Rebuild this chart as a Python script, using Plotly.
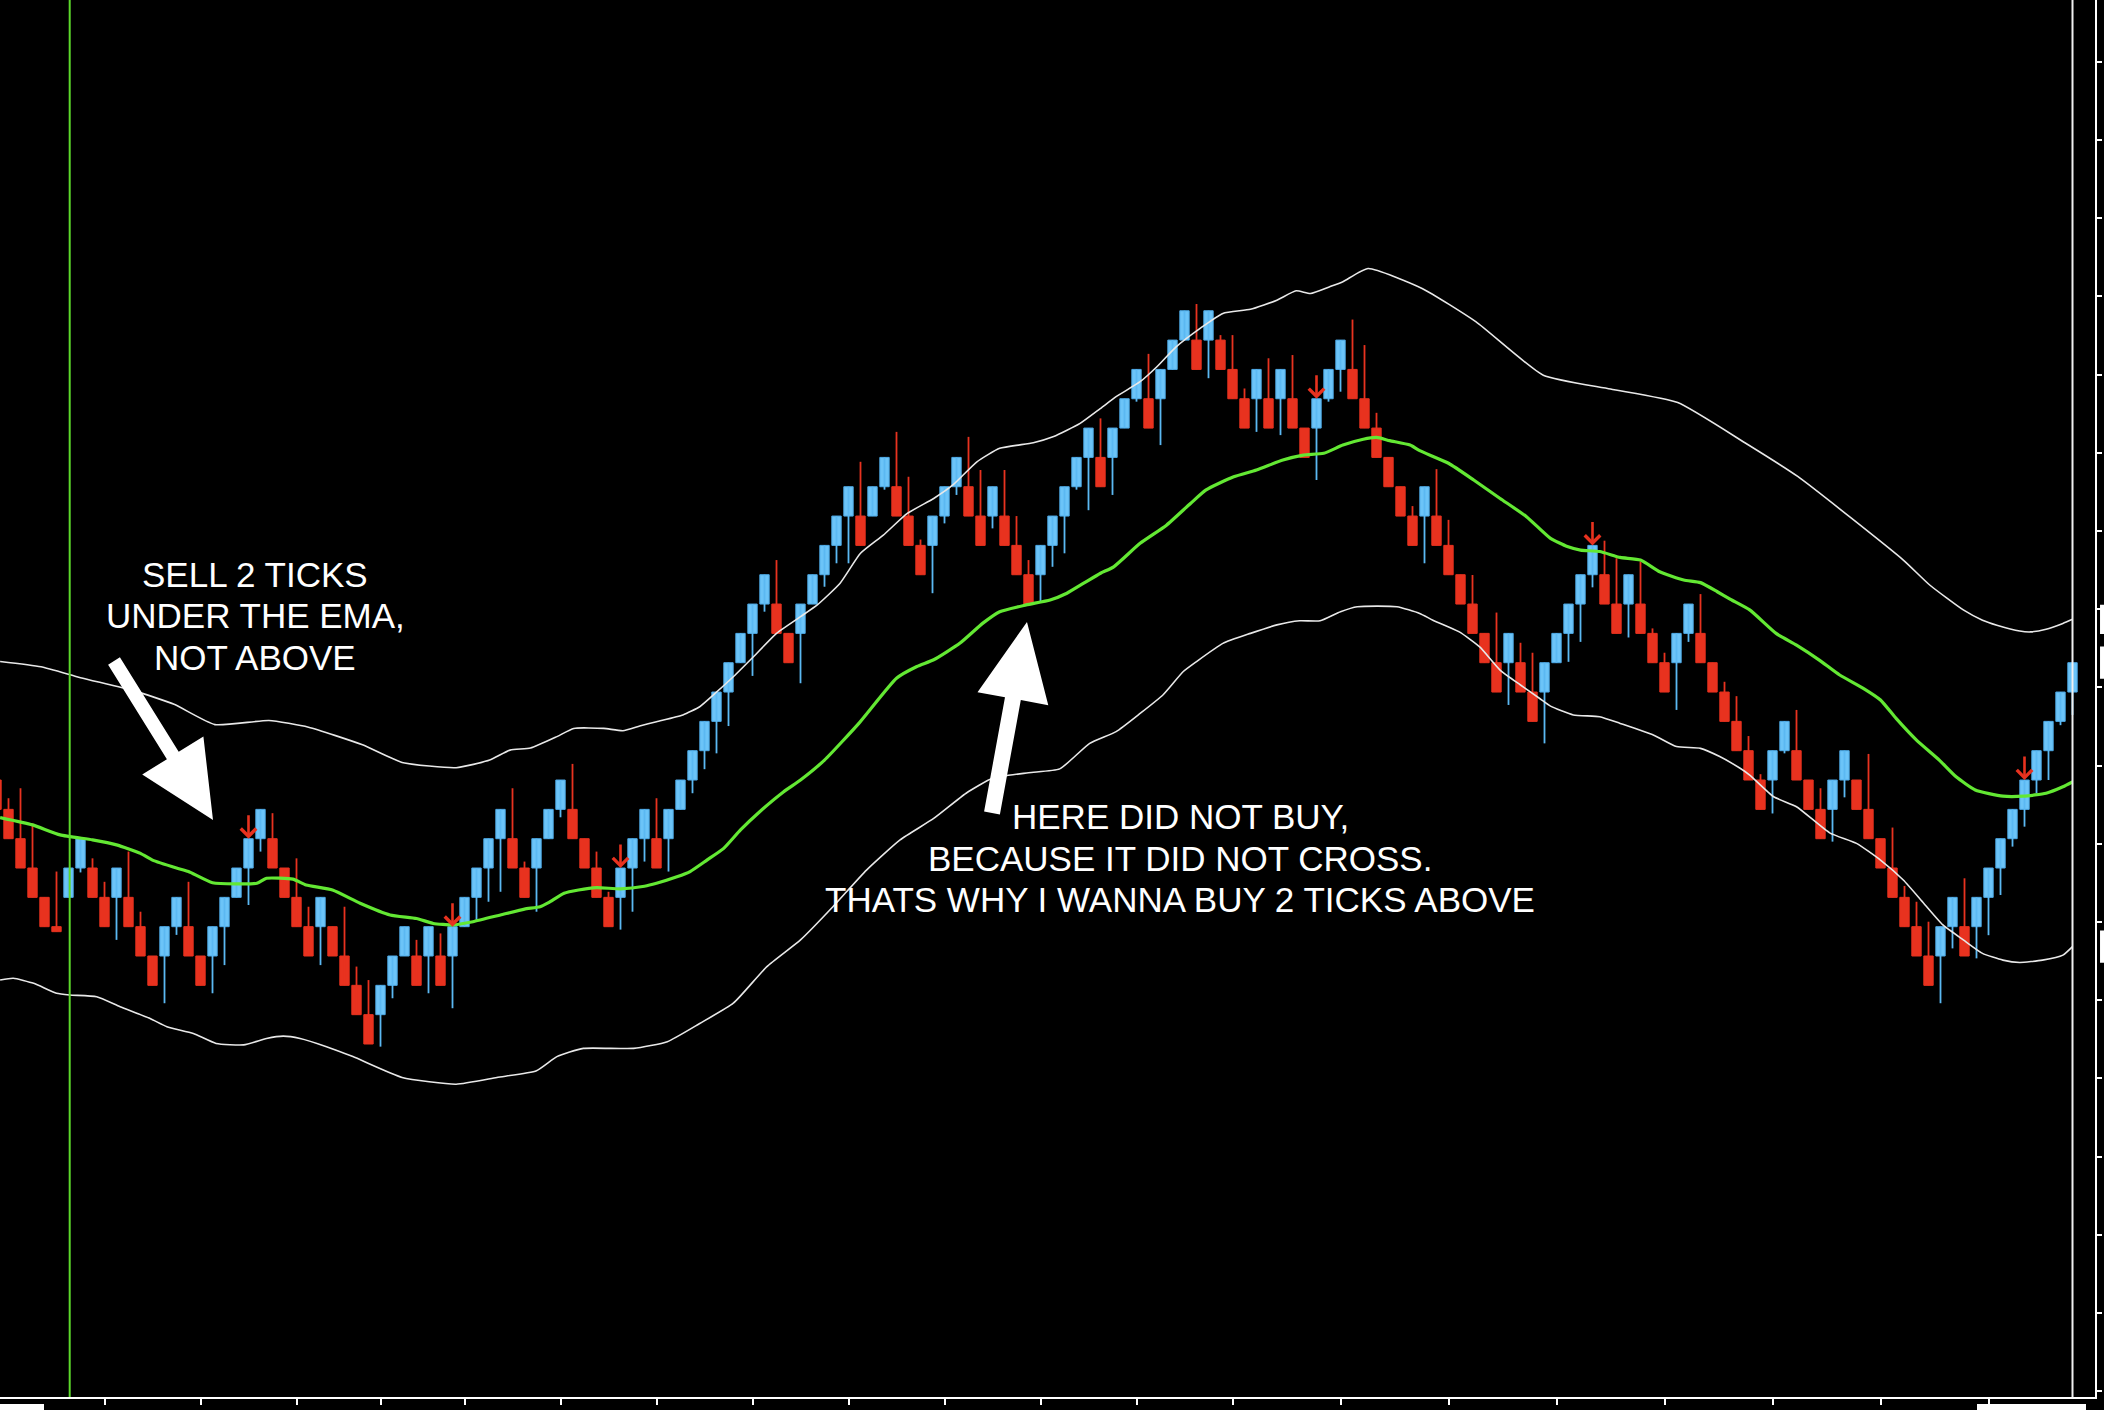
import plotly.graph_objects as go

# ---------------- data (price in brick units, x = bar index) ----------------
bar_index = list(range(-1, 173))
opens = [5, 4, 3, 2, 1, 0, 1, 2, 2, 1,            # -1..8
         1, 1, 0, -1, -1, 0, 0, -1, -1, 0,        # 9..18
         1, 2, 3, 3, 2, 1, 0, 0, 0, -1,           # 19..28
         -2, -3, -3, -2, -1, -1, -1, -1, -1, 0,   # 29..38
         1, 2, 3, 3, 2, 2, 3, 4, 4, 3,            # 39..48
         2, 1, 1, 2, 3, 3, 3, 4, 5, 6,            # 49..58
         7, 8, 9, 10, 11, 11, 10, 10, 11, 12,     # 59..68
         13, 14, 14, 14, 15, 15, 14, 13, 13, 14,  # 69..78
         15, 15, 14, 14, 14, 13, 12, 12, 13, 14,  # 79..88
         15, 16, 16, 16, 17, 18, 18, 18, 19, 20,  # 89..98
         20, 20, 20, 19, 18, 18, 18, 18, 18, 17,  # 99..108
         17, 18, 19, 19, 18, 17, 16, 15, 14, 14,  # 109..118
         14, 13, 12, 11, 10, 9, 9, 9, 8, 8,       # 119..128
         9, 10, 11, 12, 12, 11, 11, 11, 10, 9,    # 129..138
         9, 10, 10, 9, 8, 7, 6, 5, 5, 6,          # 139..148
         6, 5, 4, 4, 5, 5, 4, 3, 2, 1,            # 149..158
         0, -1, -1, 0, 0, 0, 1, 2, 3, 4,          # 159..168
         5, 6, 7, 8]                              # 169..172
closes = [4, 3, 2, 1, 0, -0.17, 2, 3, 1, 0,
          2, 0, -1, -2, 0, 1, -1, -2, 0, 1,
          2, 3, 4, 2, 1, 0, -1, 1, -1, -2,
          -3, -4, -2, -1, 0, -2, 0, -2, 0, 1,
          2, 3, 4, 2, 1, 3, 4, 5, 3, 2,
          1, 0, 2, 3, 4, 2, 4, 5, 6, 7,
          8, 9, 10, 11, 12, 10, 9, 11, 12, 13,
          14, 15, 13, 15, 16, 14, 13, 12, 14, 15,
          16, 14, 13, 15, 13, 12, 11, 13, 14, 15,
          16, 17, 15, 17, 18, 19, 17, 19, 20, 21,
          19, 21, 19, 18, 17, 19, 17, 19, 17, 16,
          18, 19, 20, 18, 17, 16, 15, 14, 13, 15,
          13, 12, 11, 10, 9, 8, 10, 8, 7, 9,
          10, 11, 12, 13, 11, 10, 12, 10, 9, 8,
          10, 11, 9, 8, 7, 6, 5, 4, 6, 7,
          5, 4, 3, 5, 6, 4, 3, 2, 1, 0,
          -1, -2, 0, 1, -1, 1, 2, 3, 4, 5,
          6, 7, 8, 9]
highs = [5, 4.38, 4.72, 3.52, 1, 1.88, 2, 3, 2.33, 1.53,
         2, 2.56, 0.51, -1, 0, 1, 1.53, -1, 0, 1,
         2, 3, 4, 3.87, 2, 2.33, 0.68, 1, 0, 0.68,
         -1.36, -1.82, -2, -1, 0, -0.45, 0, -0.23, 0, 1,
         2, 3, 4, 4.72, 2.22, 3, 4, 5, 5.55, 3,
         2.56, 1.19, 2, 3, 4, 4.38, 4, 5, 6, 7,
         8, 9, 10, 11, 12, 12.5, 10, 11, 12, 13,
         14, 15, 15.85, 15, 16, 16.87, 15.34, 13.2, 14, 15,
         16, 16.7, 15.57, 15, 15.57, 14, 12.5, 13, 14, 15,
         16, 17, 17.33, 17, 18, 19, 19.53, 19, 20, 21,
         21.23, 21, 20.17, 20.17, 18.35, 19, 19.38, 19, 19.49, 17,
         18, 19, 20, 20.7, 19.83, 17.52, 16, 15, 14.34, 15,
         15.6, 13.87, 12, 11.99, 10, 10.71, 10, 9.68, 9.34, 9,
         10, 11, 12, 13, 13.16, 12.56, 12, 12.45, 10.17, 9.34,
         10, 11, 11.34, 9, 8.35, 7.86, 6.5, 5.2, 6, 7,
         7.39, 5, 4.72, 5, 6, 5, 5.89, 3, 3.38, 1.39,
         0.85, 0.17, 0, 1, 1.65, 1, 2, 3, 4, 5,
         6, 7, 8, 9]
lows = [4, 3, 2, 1, 0, -0.17, 1, 1.85, 1, 0,
        -0.45, 0, -1, -2, -2.61, -0.28, -1, -2, -2.27, -1.31,
        1, 0.74, 2.56, 2, 1, 0, -1, -1.31, -1, -2,
        -3, -4, -4.09, -2.44, -1, -2, -2.27, -2, -2.78, 0,
        0.23, 0.85, 1.19, 2, 1, 0.51, 3, 3.73, 3, 2,
        1, 0, -0.1, 0.51, 2.22, 2, 1.88, 4, 4.55, 5.37,
        5.91, 6.84, 9, 8.55, 10.74, 10, 9, 8.3, 11, 11.59,
        12.39, 12.39, 13, 14, 14.9, 14, 13, 12, 11.37, 13.75,
        14.72, 14, 13, 13.58, 13, 12, 11, 11.08, 12.27, 12.73,
        14.9, 14.2, 15, 14.72, 17, 17.9, 17, 16.42, 19, 20,
        19, 18.7, 19, 18, 17, 16.87, 17, 16.76, 17, 16,
        15.23, 17.9, 18.24, 18, 17, 16, 15, 14, 13, 12.39,
        13, 12, 11, 10, 9, 8, 7.56, 8, 7, 6.25,
        9, 9.03, 9.71, 11.57, 11, 10, 9.86, 10, 9, 8,
        7.39, 9.71, 9, 8, 7, 6, 5, 4, 3.86, 5.91,
        5, 4, 3, 2.9, 4.41, 4, 3, 2, 1, 0,
        -1, -2, -2.61, -0.74, -1, -1.08, -0.29, 1.08, 2.73, 3.41,
        4.55, 5, 6.87, 7.22]
assert len(opens) == len(closes) == len(highs) == len(lows) == len(bar_index)

# EMA (green) sampled along the chart
ema_x = [-0.7, 2, 4.3, 7, 9, 11, 12, 14, 15, 17, 20.7, 21.5, 23.7, 24.8, 27, 29.3, 31.8, 34, 35.4, 37,
         38.7, 41, 43, 44.3, 45, 46.3, 47.5, 49, 51, 53, 54, 55.7, 56.8, 58.2, 59.6, 61, 62.6, 64.6, 66, 68,
         70.9, 74, 75.7, 77.1, 79.3, 81.2, 82.6, 84.8, 86.8, 88.2, 89.6, 91, 92.1, 94.3, 96.5, 98.5, 99.8, 102.1, 104, 106.2,
         107.9, 109.6, 111.2, 112.9, 114, 115.1, 116.8, 117.6, 120, 122.1, 124.3, 126.5, 128.5, 129.9, 131, 132.6, 134.3, 136, 137.6, 139.6,
         141, 142.4, 143.5, 145.1, 147.3, 149, 150.9, 152.6, 154.6, 156, 157.3, 159, 160.9, 162.3, 163.9, 166.2, 167.9, 169.8, 171.2, 172]
ema_y = [3.72, 3.47, 3.13, 2.96, 2.79, 2.5, 2.27, 2.0, 1.88, 1.5, 1.48, 1.65, 1.62, 1.42, 1.25, 0.8, 0.4, 0.28, 0.11, 0.06,
         0.17, 0.4, 0.6, 0.68, 0.82, 1.14, 1.25, 1.33, 1.29, 1.38, 1.48, 1.7, 1.88, 2.27, 2.67, 3.3, 3.92, 4.6, 5.0, 5.68,
         6.95, 8.47, 8.87, 9.1, 9.67, 10.35, 10.74, 10.97, 11.14, 11.37, 11.71, 12.05, 12.27, 13.07, 13.69, 14.43, 14.89, 15.34, 15.57, 15.91,
         16.08, 16.14, 16.42, 16.62, 16.68, 16.57, 16.42, 16.23, 15.8, 15.23, 14.6, 13.98, 13.24, 12.96, 12.84, 12.79, 12.59, 12.5, 12.1, 11.82,
         11.73, 11.42, 11.16, 10.8, 10.0, 9.6, 9.09, 8.58, 8.12, 7.73, 7.1, 6.36, 5.68, 5.11, 4.66, 4.45, 4.45, 4.55, 4.77, 4.94]

# Upper band (white)
upper_x = [-0.7, 2.7, 6, 10.5, 13.8, 17.2, 21.7, 25, 29.5, 32.8, 37.3, 40.1, 41.8, 43.5, 45.7, 47.1, 49.6, 51.2, 52.6, 54,
           56.2, 57.6, 58.9, 60.4, 62.1, 64, 66, 67.4, 69.3, 71, 72.9, 74.9, 77.1, 78.7, 80.7, 82.6, 85.4, 87.1, 89.3, 91,
           92.3, 94.3, 95.7, 97.3, 99.3, 101.2, 103.5, 105.7, 107.3, 108.5, 110.1, 111.2, 113.3, 117.8, 122.3, 127.9, 133.5, 139.1, 144.7, 149.1,
           157.9, 160.1, 162.9, 164.5, 165.7, 167.6, 168.5, 169.8, 171.2, 172]
upper_y = [9.04, 8.86, 8.49, 8.04, 7.58, 6.89, 7.03, 6.8, 6.2, 5.6, 5.42, 5.68, 6.02, 6.09, 6.48, 6.76, 6.76, 6.68, 6.84, 6.99,
           7.22, 7.5, 7.96, 8.52, 9.21, 10.0, 10.57, 10.97, 11.71, 12.73, 13.35, 14.09, 14.6, 15.06, 15.85, 16.31, 16.5, 16.71, 17.16, 17.67,
           18.07, 18.58, 19.09, 19.77, 20.4, 20.91, 21.05, 21.36, 21.68, 21.59, 21.82, 21.99, 22.44, 21.76, 20.62, 18.8, 18.33, 17.87, 16.5, 15.35,
           12.5, 11.65, 10.8, 10.45, 10.28, 10.08, 10.05, 10.14, 10.34, 10.48]

# Lower band (white)
lower_x = [-0.7, 0.4, 2.1, 4, 5.1, 7.35, 9.3, 11.8, 13.2, 15.4, 17.3, 19.6, 21.5, 22.9, 24.3, 26.5, 28.7, 32.8, 37.3, 40.7,
           44, 45.7, 47.9, 52.1, 54.9, 57.6, 60.4, 63.2, 66, 68.7, 71.5, 74.3, 77.1, 79.8, 82, 85, 87.6, 90.1, 92.3, 94.3,
           96.2, 97.9, 99, 101.2, 103.5, 105.7, 107.6, 109.3, 111, 112.4, 115.7, 117.6, 118.7, 120.9, 122.6, 124.3, 126, 127.6, 128.5, 130.4,
           132.6, 134.3, 137.1, 139, 141, 142.6, 144.3, 145.1, 147.1, 149, 151.8, 154, 156, 157.9, 159.6, 161.2, 162.9, 164.5, 166.2, 167.6,
           169.5, 171.2, 172]
lower_y = [-1.82, -1.76, -1.93, -2.27, -2.33, -2.39, -2.73, -3.13, -3.41, -3.64, -3.98, -4.03, -3.81, -3.73, -3.81, -4.09, -4.43, -5.14, -5.37, -5.14,
           -4.91, -4.43, -4.15, -4.15, -3.92, -3.3, -2.61, -1.36, -0.45, 0.68, 1.93, 2.96, 3.69, 4.55, 5.06, 5.25, 5.38, 6.25, 6.65, 7.27,
           7.9, 8.7, 9.04, 9.66, 10.0, 10.29, 10.43, 10.43, 10.74, 10.91, 10.91, 10.68, 10.45, 10.05, 9.54, 8.75, 8.24, 7.78, 7.52, 7.22,
           7.16, 6.93, 6.53, 6.14, 6.08, 5.8, 5.4, 5.17, 4.43, 4.09, 3.19, 2.84, 2.27, 1.59, 0.8, 0.06, -0.45, -0.91, -1.14, -1.22,
           -1.14, -0.97, -0.68]

signal_bars = [20, 37, 51, 109, 132, 168]   # red arrows
session_bar = 5.1                           # green vertical line
current_bar = 172                           # white vertical line

x_tick_bars = [8, 16, 24, 31, 38, 46, 54, 62, 70, 78, 86, 94, 102, 111, 120, 129, 138, 147, 156, 165]
x_tick_labels = ["9:30:01", "9:31:23", "9:33:22", "9:34:06", "9:35:11", "9:37:10", "9:38:08",
                 "9:41:12", "9:42:12", "9:47:14", "9:51:02", "9:53:19", "9:56:20", "9:58:37",
                 "10:01:25", "10:03:05", "10:05:44", "10:07:29", "10:09:51", "10:12:16"]

note_sell = ["SELL 2 TICKS", "UNDER THE EMA,", "NOT ABOVE"]
note_buy = ["HERE DID NOT BUY,", "BECAUSE IT DID NOT CROSS.", "THATS WHY I WANNA BUY 2 TICKS ABOVE"]

# ---------------- styling ----------------
BLUE = "#6CC4F8"
BLUE_EDGE = "#4DA9E6"
RED = "#E8321F"
GREEN = "#63E833"
PLOT_W, PLOT_H = 2095, 1397


def px_x(p):
    return p / PLOT_W


def px_y(p):
    return 1 - p / PLOT_H


up_x, up_base, up_h = [], [], []
dn_x, dn_base, dn_h = [], [], []
wu_x, wu_y, wd_x, wd_y = [], [], [], []
for i, o, c, h, l in zip(bar_index, opens, closes, highs, lows):
    if c > o:
        up_x.append(i); up_base.append(o); up_h.append(c - o)
        wu_x += [i, i, None]; wu_y += [l, h, None]
    else:
        dn_x.append(i); dn_base.append(c); dn_h.append(o - c)
        wd_x += [i, i, None]; wd_y += [l, h, None]

fig = go.Figure()
fig.add_trace(go.Scatter(x=wu_x, y=wu_y, mode="lines", line=dict(color="#5BB8F2", width=1.8),
                         hoverinfo="skip"))
fig.add_trace(go.Scatter(x=wd_x, y=wd_y, mode="lines", line=dict(color=RED, width=1.8),
                         hoverinfo="skip"))
fig.add_trace(go.Bar(x=up_x, y=up_h, base=up_base, width=0.78,
                     marker=dict(color=BLUE, line=dict(color=BLUE_EDGE, width=1))))
fig.add_trace(go.Bar(x=dn_x, y=dn_h, base=dn_base, width=0.78,
                     marker=dict(color=RED, line=dict(color=RED, width=1))))
for bx, by in ((upper_x, upper_y), (lower_x, lower_y)):
    fig.add_trace(go.Scatter(x=bx, y=by, mode="lines",
                             line=dict(color="#E8E8E8", width=1.6, shape="spline", smoothing=0.5),
                             hoverinfo="skip"))
fig.add_trace(go.Scatter(x=ema_x, y=ema_y, mode="lines",
                         line=dict(color=GREEN, width=3.2, shape="spline", smoothing=0.5),
                         hoverinfo="skip"))

annotations = []
for b in signal_bars:
    k = bar_index.index(b)
    annotations.append(dict(x=b, y=closes[k], xref="x", yref="y", text="", showarrow=True,
                            ax=0, ay=-25, arrowhead=4, arrowsize=1.15, arrowwidth=2.6,
                            arrowcolor=RED, standoff=0))

FONT = dict(family="Liberation Sans, Arial, Helvetica, sans-serif", size=35, color="white")
for txt, py in zip(note_sell, [574, 615.5, 657]):
    annotations.append(dict(x=px_x(255), y=px_y(py), xref="paper", yref="paper", text=txt,
                            showarrow=False, xanchor="center", yanchor="middle", font=FONT))
for txt, py in zip(note_buy, [816.5, 858, 899.7]):
    annotations.append(dict(x=px_x(1180), y=px_y(py), xref="paper", yref="paper", text=txt,
                            showarrow=False, xanchor="center", yanchor="middle", font=FONT))


def poly(points):
    return "M " + " L ".join(f"{px_x(a):.5f},{px_y(b):.5f}" for a, b in points) + " Z"


arrow1 = [(108.1, 664.7), (119.9, 657.3), (178.7, 751.8), (203.4, 736.5), (213, 820),
          (142.2, 774.5), (166.9, 759.2)]
arrow2 = [(999.9, 814.4), (984.1, 811.6), (1005.0, 697.3), (977.5, 692.2), (1027, 622),
          (1048.3, 705.2), (1020.8, 700.1)]

shapes = [
    dict(type="path", path=poly(arrow1), xref="paper", yref="paper", fillcolor="white",
         line=dict(width=0), layer="above"),
    dict(type="path", path=poly(arrow2), xref="paper", yref="paper", fillcolor="white",
         line=dict(width=0), layer="above"),
    dict(type="line", x0=session_bar, x1=session_bar, y0=0, y1=1, xref="x", yref="paper",
         line=dict(color="#5CD92B", width=2), layer="above"),
    dict(type="line", x0=current_bar, x1=current_bar, y0=0, y1=1, xref="x", yref="paper",
         line=dict(color="#F0F0F0", width=2), layer="above"),
    # price label boxes on the right edge (upper band, last close, lower band)
    dict(type="rect", x0=1.0024, x1=1.02, y0=upper_y[-1] - 0.5, y1=upper_y[-1] + 0.5,
         xref="paper", yref="y", fillcolor="white", line=dict(width=0)),
    dict(type="rect", x0=1.0024, x1=1.02, y0=closes[-1] - 0.55, y1=closes[-1] + 0.55,
         xref="paper", yref="y", fillcolor="white", line=dict(width=0)),
    dict(type="rect", x0=1.0024, x1=1.02, y0=lower_y[-1] - 0.55, y1=lower_y[-1] + 0.55,
         xref="paper", yref="y", fillcolor="white", line=dict(width=0)),
    # time label boxes at the bottom edge
    dict(type="rect", x0=px_x(0), x1=px_x(44), y0=px_y(1404), y1=px_y(1420),
         xref="paper", yref="paper", fillcolor="white", line=dict(width=0)),
    dict(type="rect", x0=px_x(1977), x1=px_x(2086), y0=px_y(1404), y1=px_y(1420),
         xref="paper", yref="paper", fillcolor="white", line=dict(width=0)),
]

fig.update_layout(
    template="none",
    width=2104, height=1410,
    margin=dict(l=0, r=2104 - PLOT_W, t=0, b=1410 - PLOT_H, pad=0),
    paper_bgcolor="black", plot_bgcolor="black",
    showlegend=False, barmode="overlay",
    annotations=annotations, shapes=shapes,
    xaxis=dict(range=[-8.5 / 12, (PLOT_W - 8.5) / 12], showgrid=False, zeroline=False,
               showline=True, linecolor="white", linewidth=2, ticks="outside", ticklen=6,
               tickwidth=2, tickcolor="white", tickvals=x_tick_bars, ticktext=x_tick_labels,
               tickfont=dict(family="Liberation Sans, Arial", size=14, color="white"),
               automargin=False, fixedrange=True),
    yaxis=dict(range=[31.595 - PLOT_H / 29.33, 31.595], side="right", showgrid=False,
               zeroline=False, showline=True, linecolor="white", linewidth=2, ticks="outside",
               ticklen=5, tickwidth=2, tickcolor="white", tick0=0.16, dtick=8 / 3,
               tickformat=".2f",
               tickfont=dict(family="Liberation Sans, Arial", size=13, color="#2A4A9A"),
               automargin=False, fixedrange=True),
)

fig.write_html("out.html", config={"displayModeBar": False},
               post_script="document.body.style.margin='0px';"
                           "document.body.style.backgroundColor='black';")
